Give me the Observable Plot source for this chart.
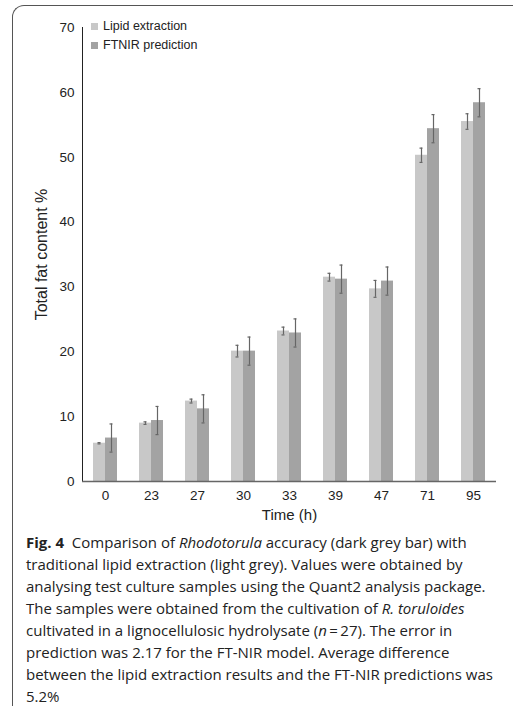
<!DOCTYPE html>
<html>
<head>
<meta charset="utf-8">
<script src="https://cdn.jsdelivr.net/npm/d3@7"></script>
<script src="https://cdn.jsdelivr.net/npm/@observablehq/plot@0.6"></script>
<style>
  html, body { margin: 0; padding: 0; background: #fff; }
  #wrap { position: relative; width: 513px; height: 706px; overflow: hidden; }
  #border { position: absolute; left: 12px; top: 5px; width: 520px; height: 720px;
    border-top: 1.5px solid #555; border-left: 1.5px solid #555; border-top-left-radius: 12px; }
  #chart { position: absolute; left: 0; top: 0; }
  #legend { position: absolute; left: 91px; top: 17px; font-family: "Liberation Sans", Arial, sans-serif;
    font-size: 12.5px; color: #222; line-height: 19px; }
  #legend .item { display: flex; align-items: center; }
  #legend .sw { width: 7px; height: 7px; margin-right: 5px; display: inline-block; }
  #caption { position: absolute; left: 26px; top: 531px; font-family: "Open Sans", sans-serif;
    font-size: 15px; line-height: 22px; color: #222; white-space: nowrap; }
</style>
</head>
<body>
<div id="wrap">
  <div id="border"></div>
  <div id="chart"></div>
  <div id="legend"></div>
  <div id="caption"></div>
</div>
<script>
const times = ["0", "23", "27", "30", "33", "39", "47", "71", "95"];
const series = ["Lipid extraction", "FTNIR prediction"];
const lipid = [5.9, 9.0, 12.4, 20.1, 23.2, 31.5, 29.7, 50.3, 55.5];
const lipidErr = [0.1, 0.2, 0.3, 0.9, 0.6, 0.6, 1.3, 1.1, 1.2];
const ftnir = [6.7, 9.4, 11.2, 20.1, 22.9, 31.2, 30.9, 54.4, 58.4];
const ftnirErr = [2.17, 2.17, 2.17, 2.17, 2.17, 2.17, 2.17, 2.17, 2.17];
const yTicks = [0, 10, 20, 30, 40, 50, 60, 70];
const colors = ["#c8c8c8", "#a3a3a3"];

const rows = [];
times.forEach((t, i) => {
  rows.push({time: t, series: series[0], value: lipid[i], err: lipidErr[i]});
  rows.push({time: t, series: series[1], value: ftnir[i], err: ftnirErr[i]});
});

const chart = Plot.plot({
  width: 513,
  height: 525,
  marginLeft: 80,
  marginRight: 16,
  marginTop: 27,
  marginBottom: 44,
  style: {fontFamily: "'Liberation Sans', Arial, sans-serif", fontSize: "13.5px", color: "#222", background: "transparent"},
  fx: {domain: times, padding: 0, label: "Time (h)", labelAnchor: "center", labelOffset: 38, tickSize: 0, tickPadding: 9},
  x: {domain: series, paddingInner: 0, paddingOuter: 0.78, axis: null},
  y: {domain: [0, 70], ticks: yTicks, tickSize: 0, tickPadding: 8, label: "Total fat content %", labelArrow: "none", labelAnchor: "center", labelOffset: 47, line: true},
  color: {domain: series, range: colors},
  marks: [
    Plot.barY(rows, {fx: "time", x: "series", y: "value", fill: "series"}),
    Plot.ruleX(rows, {fx: "time", x: "series", y1: d => d.value - d.err, y2: d => d.value + d.err, stroke: "#666", strokeWidth: 1.2}),
    Plot.tickY(rows, {fx: "time", x: "series", y: d => d.value - d.err, stroke: "#666", strokeWidth: 1.2, inset: 4.5}),
    Plot.tickY(rows, {fx: "time", x: "series", y: d => d.value + d.err, stroke: "#666", strokeWidth: 1.2, inset: 4.5}),
    Plot.ruleY([0], {stroke: "#666", strokeWidth: 1.6})
  ]
});
document.getElementById("chart").appendChild(chart);
d3.select(chart).selectAll('[aria-label="y-axis label"] text').style("font-size", "16px");
d3.select(chart).selectAll('[aria-label="fx-axis label"] text').style("font-size", "15px");

const legend = document.getElementById("legend");
series.forEach((s, i) => {
  const it = document.createElement("div");
  it.className = "item";
  it.innerHTML = `<span class="sw" style="background:${colors[i]}"></span><span>${s}</span>`;
  legend.appendChild(it);
});

document.getElementById("caption").innerHTML =
  `<b>Fig. 4</b>&nbsp; Comparison of <i>Rhodotorula</i> accuracy (dark grey bar) with<br>` +
  `traditional lipid extraction (light grey). Values were obtained by<br>` +
  `analysing test culture samples using the Quant2 analysis package.<br>` +
  `The samples were obtained from the cultivation of <i>R. toruloides</i><br>` +
  `cultivated in a lignocellulosic hydrolysate (<i>n</i>&thinsp;=&thinsp;27). The error in<br>` +
  `prediction was 2.17 for the FT-NIR model. Average difference<br>` +
  `between the lipid extraction results and the FT-NIR predictions was<br>` +
  `5.2%`;
</script>
</body>
</html>
